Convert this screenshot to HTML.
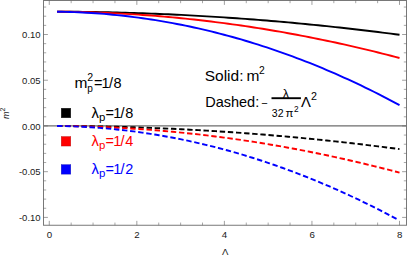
<!DOCTYPE html>
<html><head><meta charset="utf-8"><style>
html,body{margin:0;padding:0;background:#fff;}
body{width:407px;height:257px;overflow:hidden;font-family:"Liberation Sans",sans-serif;}
svg{display:block}
</style></head><body>
<svg width="407" height="257" viewBox="0 0 407 257">
<rect width="407" height="257" fill="#fff"/>
<line x1="43.5" y1="125.95" x2="406.5" y2="125.95" stroke="#6c6c6c" stroke-width="1.3"/>
<path d="M57.05,11.65 L61.33,11.66 L65.61,11.69 L69.89,11.72 L74.17,11.75 L78.45,11.80 L82.73,11.85 L87.02,11.91 L91.30,11.97 L95.58,12.04 L99.86,12.12 L104.14,12.21 L108.42,12.30 L112.70,12.40 L116.98,12.50 L121.26,12.62 L125.54,12.74 L129.82,12.86 L134.10,13.00 L138.38,13.14 L142.66,13.28 L146.95,13.44 L151.23,13.60 L155.51,13.77 L159.79,13.94 L164.07,14.13 L168.35,14.32 L172.63,14.51 L176.91,14.71 L181.19,14.92 L185.47,15.14 L189.75,15.36 L194.03,15.59 L198.31,15.83 L202.60,16.08 L206.88,16.33 L211.16,16.59 L215.44,16.85 L219.72,17.12 L224.00,17.40 L228.28,17.69 L232.56,17.98 L236.84,18.28 L241.12,18.59 L245.40,18.90 L249.68,19.22 L253.96,19.55 L258.25,19.88 L262.53,20.23 L266.81,20.57 L271.09,20.93 L275.37,21.29 L279.65,21.66 L283.93,22.04 L288.21,22.42 L292.49,22.81 L296.77,23.21 L301.05,23.61 L305.33,24.02 L309.61,24.44 L313.90,24.86 L318.18,25.29 L322.46,25.73 L326.74,26.18 L331.02,26.63 L335.30,27.09 L339.58,27.55 L343.86,28.03 L348.14,28.51 L352.42,28.99 L356.70,29.49 L360.98,29.99 L365.26,30.49 L369.54,31.01 L373.83,31.53 L378.11,32.06 L382.39,32.59 L386.67,33.13 L390.95,33.68 L395.23,34.24 L399.51,34.80" fill="none" stroke="#000000" stroke-width="1.9"/>
<path d="M57.05,11.66 L61.33,11.69 L65.61,11.74 L69.89,11.80 L74.17,11.87 L78.45,11.96 L82.73,12.06 L87.02,12.18 L91.30,12.30 L95.58,12.45 L99.86,12.60 L104.14,12.77 L108.42,12.96 L112.70,13.16 L116.98,13.37 L121.26,13.59 L125.54,13.83 L129.82,14.09 L134.10,14.36 L138.38,14.64 L142.66,14.93 L146.95,15.24 L151.23,15.56 L155.51,15.90 L159.79,16.25 L164.07,16.61 L168.35,16.99 L172.63,17.38 L176.91,17.79 L181.19,18.21 L185.47,18.64 L189.75,19.09 L194.03,19.55 L198.31,20.03 L202.60,20.52 L206.88,21.02 L211.16,21.54 L215.44,22.07 L219.72,22.61 L224.00,23.17 L228.28,23.74 L232.56,24.33 L236.84,24.93 L241.12,25.54 L245.40,26.17 L249.68,26.81 L253.96,27.46 L258.25,28.13 L262.53,28.81 L266.81,29.51 L271.09,30.22 L275.37,30.94 L279.65,31.68 L283.93,32.43 L288.21,33.20 L292.49,33.98 L296.77,34.77 L301.05,35.58 L305.33,36.40 L309.61,37.24 L313.90,38.08 L318.18,38.95 L322.46,39.82 L326.74,40.71 L331.02,41.62 L335.30,42.54 L339.58,43.47 L343.86,44.41 L348.14,45.37 L352.42,46.35 L356.70,47.33 L360.98,48.33 L365.26,49.35 L369.54,50.38 L373.83,51.42 L378.11,52.48 L382.39,53.55 L386.67,54.63 L390.95,55.73 L395.23,56.84 L399.51,57.97" fill="none" stroke="#ff0000" stroke-width="1.9"/>
<path d="M57.05,11.68 L61.33,11.75 L65.61,11.84 L69.89,11.96 L74.17,12.11 L78.45,12.28 L82.73,12.48 L87.02,12.71 L91.30,12.97 L95.58,13.26 L99.86,13.57 L104.14,13.91 L108.42,14.28 L112.70,14.68 L116.98,15.10 L121.26,15.55 L125.54,16.03 L129.82,16.54 L134.10,17.07 L138.38,17.64 L142.66,18.23 L146.95,18.84 L151.23,19.49 L155.51,20.16 L159.79,20.86 L164.07,21.59 L168.35,22.35 L172.63,23.13 L176.91,23.95 L181.19,24.79 L185.47,25.65 L189.75,26.55 L194.03,27.47 L198.31,28.42 L202.60,29.40 L206.88,30.41 L211.16,31.44 L215.44,32.50 L219.72,33.59 L224.00,34.71 L228.28,35.86 L232.56,37.03 L236.84,38.23 L241.12,39.46 L245.40,40.72 L249.68,42.01 L253.96,43.32 L258.25,44.67 L262.53,46.04 L266.81,47.43 L271.09,48.86 L275.37,50.32 L279.65,51.80 L283.93,53.31 L288.21,54.85 L292.49,56.42 L296.77,58.02 L301.05,59.65 L305.33,61.30 L309.61,62.99 L313.90,64.70 L318.18,66.44 L322.46,68.21 L326.74,70.01 L331.02,71.84 L335.30,73.70 L339.58,75.59 L343.86,77.51 L348.14,79.46 L352.42,81.43 L356.70,83.44 L360.98,85.48 L365.26,87.55 L369.54,89.65 L373.83,91.77 L378.11,93.93 L382.39,96.12 L386.67,98.34 L390.95,100.60 L395.23,102.88 L399.51,105.20" fill="none" stroke="#0000ff" stroke-width="1.9"/>
<path d="M57.05,125.96 L61.33,125.98 L65.61,126.00 L69.89,126.03 L74.17,126.07 L78.45,126.11 L82.73,126.16 L87.02,126.22 L91.30,126.28 L95.58,126.35 L99.86,126.43 L104.14,126.52 L108.42,126.61 L112.70,126.71 L116.98,126.82 L121.26,126.93 L125.54,127.05 L129.82,127.18 L134.10,127.31 L138.38,127.45 L142.66,127.60 L146.95,127.75 L151.23,127.91 L155.51,128.08 L159.79,128.26 L164.07,128.44 L168.35,128.63 L172.63,128.82 L176.91,129.03 L181.19,129.24 L185.47,129.45 L189.75,129.68 L194.03,129.91 L198.31,130.14 L202.60,130.39 L206.88,130.64 L211.16,130.90 L215.44,131.16 L219.72,131.44 L224.00,131.72 L228.28,132.00 L232.56,132.29 L236.84,132.59 L241.12,132.90 L245.40,133.21 L249.68,133.53 L253.96,133.86 L258.25,134.20 L262.53,134.54 L266.81,134.89 L271.09,135.24 L275.37,135.60 L279.65,135.97 L283.93,136.35 L288.21,136.73 L292.49,137.12 L296.77,137.52 L301.05,137.92 L305.33,138.33 L309.61,138.75 L313.90,139.17 L318.18,139.61 L322.46,140.04 L326.74,140.49 L331.02,140.94 L335.30,141.40 L339.58,141.87 L343.86,142.34 L348.14,142.82 L352.42,143.30 L356.70,143.80 L360.98,144.30 L365.26,144.81 L369.54,145.32 L373.83,145.84 L378.11,146.37 L382.39,146.90 L386.67,147.45 L390.95,148.00 L395.23,148.55 L399.51,149.11" fill="none" stroke="#000000" stroke-width="1.9" stroke-dasharray="5.4,2.74"/>
<path d="M57.05,125.97 L61.33,126.01 L65.61,126.05 L69.89,126.11 L74.17,126.19 L78.45,126.27 L82.73,126.38 L87.02,126.49 L91.30,126.62 L95.58,126.77 L99.86,126.92 L104.14,127.10 L108.42,127.28 L112.70,127.48 L116.98,127.70 L121.26,127.92 L125.54,128.17 L129.82,128.42 L134.10,128.69 L138.38,128.98 L142.66,129.27 L146.95,129.58 L151.23,129.91 L155.51,130.25 L159.79,130.60 L164.07,130.97 L168.35,131.35 L172.63,131.75 L176.91,132.16 L181.19,132.58 L185.47,133.02 L189.75,133.47 L194.03,133.93 L198.31,134.41 L202.60,134.91 L206.88,135.41 L211.16,135.93 L215.44,136.47 L219.72,137.02 L224.00,137.58 L228.28,138.16 L232.56,138.75 L236.84,139.35 L241.12,139.97 L245.40,140.60 L249.68,141.25 L253.96,141.91 L258.25,142.59 L262.53,143.27 L266.81,143.98 L271.09,144.69 L275.37,145.42 L279.65,146.17 L283.93,146.93 L288.21,147.70 L292.49,148.49 L296.77,149.29 L301.05,150.10 L305.33,150.93 L309.61,151.77 L313.90,152.63 L318.18,153.50 L322.46,154.38 L326.74,155.28 L331.02,156.19 L335.30,157.12 L339.58,158.06 L343.86,159.01 L348.14,159.98 L352.42,160.96 L356.70,161.95 L360.98,162.96 L365.26,163.99 L369.54,165.03 L373.83,166.08 L378.11,167.14 L382.39,168.22 L386.67,169.32 L390.95,170.42 L395.23,171.54 L399.51,172.68" fill="none" stroke="#ff0000" stroke-width="1.9" stroke-dasharray="5.4,2.74"/>
<path d="M57.05,126.00 L61.30,126.06 L65.55,126.15 L69.79,126.27 L74.04,126.42 L78.29,126.60 L82.54,126.80 L86.79,127.03 L91.03,127.29 L95.28,127.58 L99.53,127.90 L103.78,128.24 L108.02,128.61 L112.27,129.01 L116.52,129.44 L120.77,129.89 L125.02,130.37 L129.26,130.88 L133.51,131.42 L137.76,131.99 L142.01,132.58 L146.26,133.20 L150.50,133.85 L154.75,134.53 L159.00,135.23 L163.25,135.96 L167.50,136.72 L171.74,137.51 L175.99,138.33 L180.24,139.17 L184.49,140.04 L188.74,140.94 L192.98,141.87 L197.23,142.83 L201.48,143.81 L205.73,144.82 L209.97,145.86 L214.22,146.92 L218.47,148.02 L222.72,149.14 L226.97,150.29 L231.21,151.47 L235.46,152.67 L239.71,153.91 L243.96,155.17 L248.21,156.46 L252.45,157.77 L256.70,159.12 L260.95,160.49 L265.20,161.89 L269.45,163.32 L273.69,164.77 L277.94,166.26 L282.19,167.77 L286.44,169.31 L290.69,170.88 L294.93,172.47 L299.18,174.09 L303.43,175.74 L307.68,177.42 L311.92,179.13 L316.17,180.86 L320.42,182.62 L324.67,184.41 L328.92,186.23 L333.16,188.08 L337.41,189.95 L341.66,191.85 L345.91,193.78 L350.16,195.74 L354.40,197.72 L358.65,199.73 L362.90,201.77 L367.15,203.84 L371.40,205.94 L375.64,208.06 L379.89,210.21 L384.14,212.39 L388.39,214.60 L392.64,216.83 L396.88,219.10" fill="none" stroke="#0000ff" stroke-width="1.9" stroke-dasharray="5.4,2.74"/>
<rect x="43.5" y="0.5" width="363.0" height="224.75" fill="none" stroke="#787878" stroke-width="1"/>
<path d="M49.27,225.25v-4.4M49.27,0.5v4.4M136.83,225.25v-4.4M136.83,0.5v4.4M224.39,225.25v-4.4M224.39,0.5v4.4M311.95,225.25v-4.4M311.95,0.5v4.4M399.51,225.25v-4.4M399.51,0.5v4.4M43.5,217.40h4.4M406.5,217.40h-4.4M43.5,171.68h4.4M406.5,171.68h-4.4M43.5,125.95h4.4M406.5,125.95h-4.4M43.5,80.22h4.4M406.5,80.22h-4.4M43.5,34.50h4.4M406.5,34.50h-4.4" stroke="#606060" stroke-width="0.6" fill="none"/>
<path d="M71.16,225.25v-2.7M71.16,0.5v2.7M93.05,225.25v-2.7M93.05,0.5v2.7M114.94,225.25v-2.7M114.94,0.5v2.7M158.72,225.25v-2.7M158.72,0.5v2.7M180.61,225.25v-2.7M180.61,0.5v2.7M202.50,225.25v-2.7M202.50,0.5v2.7M246.28,225.25v-2.7M246.28,0.5v2.7M268.17,225.25v-2.7M268.17,0.5v2.7M290.06,225.25v-2.7M290.06,0.5v2.7M333.84,225.25v-2.7M333.84,0.5v2.7M355.73,225.25v-2.7M355.73,0.5v2.7M377.62,225.25v-2.7M377.62,0.5v2.7M43.5,208.25h2.7M406.5,208.25h-2.7M43.5,199.11h2.7M406.5,199.11h-2.7M43.5,189.97h2.7M406.5,189.97h-2.7M43.5,180.82h2.7M406.5,180.82h-2.7M43.5,162.53h2.7M406.5,162.53h-2.7M43.5,153.38h2.7M406.5,153.38h-2.7M43.5,144.24h2.7M406.5,144.24h-2.7M43.5,135.09h2.7M406.5,135.09h-2.7M43.5,116.81h2.7M406.5,116.81h-2.7M43.5,107.66h2.7M406.5,107.66h-2.7M43.5,98.52h2.7M406.5,98.52h-2.7M43.5,89.37h2.7M406.5,89.37h-2.7M43.5,71.08h2.7M406.5,71.08h-2.7M43.5,61.94h2.7M406.5,61.94h-2.7M43.5,52.79h2.7M406.5,52.79h-2.7M43.5,43.65h2.7M406.5,43.65h-2.7M43.5,25.36h2.7M406.5,25.36h-2.7M43.5,16.21h2.7M406.5,16.21h-2.7M43.5,7.06h2.7M406.5,7.06h-2.7" stroke="#606060" stroke-width="0.55" fill="none"/>
<g font-family="'Liberation Sans', sans-serif" font-size="9.7" fill="#1a1a1a" text-anchor="middle">
<text x="49.4" y="237.75">0</text>
<text x="136.95" y="237.75">2</text>
<text x="224.5" y="237.75">4</text>
<text x="312.1" y="237.75">6</text>
<text x="399.65" y="237.75">8</text>
</g>
<g font-family="'Liberation Sans', sans-serif" font-size="9.5" fill="#1a1a1a" text-anchor="end">
<text x="40.6" y="38.25">0.10</text>
<text x="40.6" y="83.97">0.05</text>
<text x="40.6" y="129.70">0.00</text>
<text x="40.6" y="175.43">-0.05</text>
<text x="40.6" y="221.15">-0.10</text>
</g>
<text x="225.1" y="254.60" font-family="'Liberation Sans', sans-serif" font-size="9.6" fill="#1a1a1a" text-anchor="middle">Λ</text>
<text transform="translate(9.20,119.00) rotate(-90)" font-family="'Liberation Sans', sans-serif" font-size="9" font-style="italic" fill="#1a1a1a">m</text>
<text transform="translate(5.20,111.60) rotate(-90)" font-family="'Liberation Sans', sans-serif" font-size="7" fill="#1a1a1a">2</text>
<g font-family="'Liberation Sans', sans-serif" fill="#000">
<text x="74.5" y="87.70" font-size="15.5">m</text>
<text x="87.2" y="80.95" font-size="10.6">2</text>
<text x="87.3" y="92.47" font-size="10.1">p</text>
<text y="87.85" font-size="14.5"><tspan x="93.9">=</tspan><tspan x="101.6">1</tspan><tspan x="109">/</tspan><tspan x="113.6">8</tspan></text>
</g>
<rect x="61.25" y="108.25" width="9.5" height="9.5" fill="#000000" stroke="#000000" stroke-opacity="0.7" stroke-width="0.5"/>
<g font-family="'Liberation Sans', sans-serif" fill="#000000">
<text x="91.4" y="118.05" font-size="14.8">λ</text>
<text x="98.9" y="120.57" font-size="11.4">p</text>
<text y="118.05" font-size="14.5"><tspan x="105.5">=</tspan><tspan x="113.2">1</tspan><tspan x="120.6">/</tspan><tspan x="125.2">8</tspan></text>
</g>
<rect x="61.25" y="136.55" width="9.5" height="9.5" fill="#ff0000" stroke="#aa0000" stroke-opacity="0.7" stroke-width="0.5"/>
<g font-family="'Liberation Sans', sans-serif" fill="#ff0000">
<text x="91.4" y="146.35" font-size="14.8">λ</text>
<text x="98.9" y="148.87" font-size="11.4">p</text>
<text y="146.35" font-size="14.5"><tspan x="105.5">=</tspan><tspan x="113.2">1</tspan><tspan x="120.6">/</tspan><tspan x="125.2">4</tspan></text>
</g>
<rect x="61.25" y="164.65" width="9.5" height="9.5" fill="#0000ff" stroke="#0000aa" stroke-opacity="0.7" stroke-width="0.5"/>
<g font-family="'Liberation Sans', sans-serif" fill="#0000ff">
<text x="91.4" y="174.45" font-size="14.8">λ</text>
<text x="98.9" y="176.97" font-size="11.4">p</text>
<text y="174.45" font-size="14.5"><tspan x="105.5">=</tspan><tspan x="113.2">1</tspan><tspan x="120.6">/</tspan><tspan x="125.2">2</tspan></text>
</g>
<g font-family="'Liberation Sans', sans-serif" fill="#000">
<text x="204.7" y="80.65" font-size="15.5">Solid:</text>
<text x="246.5" y="80.65" font-size="15.5">m</text>
<text x="258.9" y="73.60" font-size="10.3">2</text>
<text x="205.2" y="106.70" font-size="14.5">Dashed:</text>
<text x="261.3" y="106.70" font-size="11">−</text>
<text x="282.7" y="97.95" font-size="12.5">λ</text>
<text x="271.8" y="116.75" font-size="10.5">32</text>
<text x="285.4" y="116.75" font-size="11.5">π</text>
<text x="294.1" y="111.95" font-size="8.3">2</text>
<text x="300.9" y="106.61" font-size="14.8">Λ</text>
<text x="311.1" y="100.05" font-size="10.7">2</text>
</g>
<rect x="271.5" y="97.25" width="29.4" height="1.9" fill="#000"/>
</svg>
</body></html>
